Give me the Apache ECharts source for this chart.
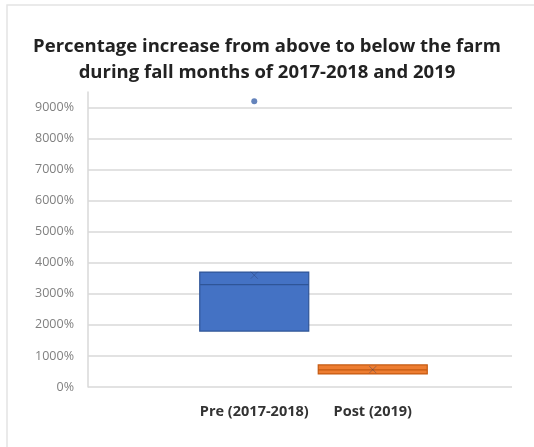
<!DOCTYPE html>
<html>
<head>
<meta charset="utf-8">
<script src="https://cdn.jsdelivr.net/npm/echarts@6/dist/echarts.min.js"></script>
<style>
    html, body {margin: 0; padding: 0; background: #fff;}
    #chart {width: 534px; height: 447px;}
</style>
</head>
<body>
<div id="chart"></div>
<script>
// data
var categories = ['Pre (2017-2018)', 'Post (2019)'];
// [min, Q1, median, Q3, max]
var preBox = [1800, 1800, 3300, 3700, 3700];
var postBox = [420, 420, 550, 710, 710];
var means = [3600, 560];
var outliers = [[0, 9200]];
var yTicks = {min: 0, max: 9500, interval: 1000};

var chart = echarts.init(document.getElementById('chart'));

var xMark = 'path://M0,0L10,10M10,0L0,10';

var option = {
    animation: false,
    title: {
        text: 'Percentage increase from above to below the farm\nduring fall months of 2017-2018 and 2019',
        left: 'center',
        top: 29,
        textStyle: {fontFamily: 'Open Sans', fontWeight: 'bold', fontSize: 18.5, color: '#222', lineHeight: 26}
    },
    graphic: [{
        type: 'rect',
        shape: {x: 7, y: 5, width: 540, height: 460},
        style: {fill: 'none', stroke: '#e4e4e4', lineWidth: 1.5},
        silent: true
    }],
    grid: [
        {left: 88, right: 22, top: 92, bottom: 60},
        {left: 195, right: 102, top: 92, bottom: 60}
    ],
    xAxis: [
        {gridIndex: 0, type: 'value', show: false, min: 0, max: 1},
        {
            gridIndex: 1,
            type: 'category',
            data: categories,
            axisLine: {show: false},
            axisTick: {show: false},
            axisLabel: {interval: 0, margin: 17, fontFamily: 'Open Sans', fontWeight: 'bold', fontSize: 14.5, color: '#333'}
        }
    ],
    yAxis: [
        {
            gridIndex: 0,
            type: 'value',
            min: yTicks.min,
            max: yTicks.max,
            interval: yTicks.interval,
            axisLine: {show: true, lineStyle: {color: '#d9d9d9', width: 1.5}},
            axisTick: {show: false},
            axisLabel: {showMaxLabel: false, margin: 14, fontFamily: 'Open Sans', fontSize: 12.5, color: '#808080',
                formatter: function (v) { return v + '%'; }},
            splitLine: {show: true, showMaxLine: false, lineStyle: {color: '#d9d9d9', width: 1.5}}
        },
        {gridIndex: 1, type: 'value', show: false, min: yTicks.min, max: yTicks.max, splitLine: {show: false}}
    ],
    series: [{
        type: 'boxplot',
        xAxisIndex: 1,
        yAxisIndex: 1,
        boxWidth: [109, 109],
        data: [
            {value: preBox, itemStyle: {color: '#4472c4', borderColor: '#2f5597', borderWidth: 1.2}},
            {value: postBox, itemStyle: {color: '#ed7d31', borderColor: '#c55a11', borderWidth: 1.2}}
        ]
    }, {
        type: 'scatter',
        xAxisIndex: 1,
        yAxisIndex: 1,
        symbol: 'circle',
        symbolSize: 6,
        itemStyle: {color: '#3d64aa'},
        data: outliers
    }, {
        type: 'scatter',
        xAxisIndex: 1,
        yAxisIndex: 1,
        symbol: xMark,
        symbolSize: 7,
        itemStyle: {color: 'none', borderColor: 'rgba(40,60,110,0.5)', borderWidth: 1},
        data: means.map(function (v, i) { return [i, v]; })
    }]
};
chart.setOption(option);
</script>
</body>
</html>
